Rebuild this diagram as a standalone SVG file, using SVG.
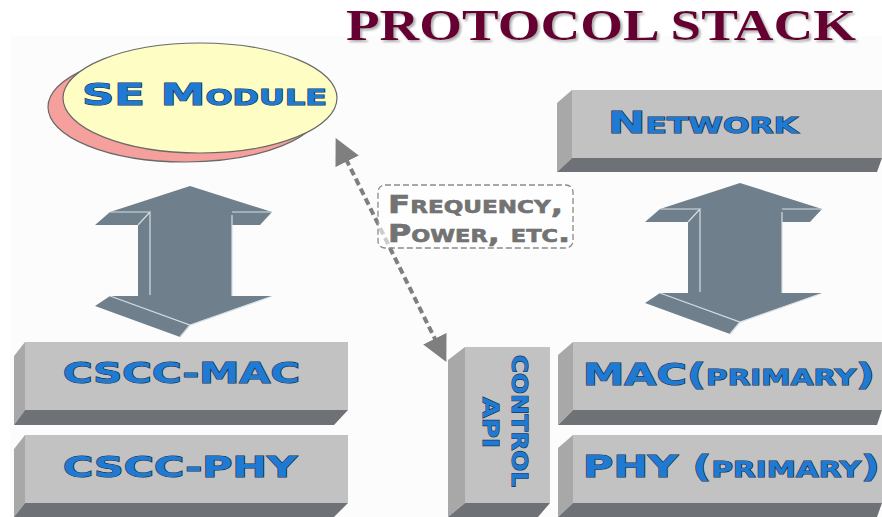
<svg xmlns="http://www.w3.org/2000/svg" width="882" height="517" viewBox="0 0 882 517">
  <defs>
    <style>
      .front { fill: #c2c2c2; }
      .side { fill: #a8a8a8; }
      .bottom { fill: #6e7276; }
      .lbl { font-family: "DejaVu Sans", "Liberation Sans", sans-serif; font-weight: bold; fill: #1f7ad3; stroke: #1b2e44; stroke-width: 1.1; paint-order: stroke fill; font-variant: small-caps; }
      .note { font-family: "DejaVu Sans", "Liberation Sans", sans-serif; font-weight: bold; fill: #737373; stroke: #555555; stroke-width: 0.5; paint-order: stroke fill; font-variant: small-caps; }
      .arrowbody { fill: #6f808c; }
      .bevel { fill: none; stroke: #d5dde2; stroke-width: 1.2; }
    </style>
    <filter id="shadow" x="-5%" y="-20%" width="110%" height="150%">
      <feDropShadow dx="2" dy="2" stdDeviation="0.8" flood-color="#999999" flood-opacity="0.8"/>
    </filter>
    <marker id="head" viewBox="0 0 10 10" refX="1" refY="5" markerWidth="6.5" markerHeight="6.5" orient="auto-start-reverse" markerUnits="strokeWidth">
      <path d="M0,0 L10,5 L0,10 Z" fill="#7f7f7f"/>
    </marker>
    <g id="bigArrow">
      <path class="arrowbody" d="M740,183 L822,209 L810,222 L782,222 L782,293 L822,293 L740,322 L730,334 L645,303 L660,293 L688,293 L688,222 L645,222 L660,209 Z"/>
      <path class="bevel" d="M660,209 L700,209 L688,222 M700,210 L700,292 M782,209 L822,209 M782,212 L782,293 M660,293 L740,322 L820,294 M740,322 L730,334"/>
    </g>
  </defs>

  <rect x="10" y="36" width="872" height="481" fill="#fcfcfc"/>

  <g id="title">
    <text x="346" y="40" font-family="Liberation Serif, serif" font-weight="bold" font-size="45" fill="#660033" textLength="510" lengthAdjust="spacingAndGlyphs" filter="url(#shadow)">PROTOCOL STACK</text>
  </g>

  <g id="se-module">
    <ellipse cx="185" cy="107" rx="137" ry="55" fill="#f5a09c" stroke="#6a6a6a" stroke-width="1.2"/>
    <ellipse cx="200" cy="98" rx="137" ry="55" fill="#fdfdc4" stroke="#6a6a6a" stroke-width="1.2"/>
    <text class="lbl" x="82" y="105" font-size="31" textLength="245" lengthAdjust="spacingAndGlyphs">SE Module</text>
  </g>

  <g id="arrow-left">
    <use href="#bigArrow" transform="translate(-550,3)"/>
  </g>
  <g id="arrow-right">
    <use href="#bigArrow"/>
  </g>

  <g id="network">
    <polygon class="side" points="557,103 572,90 572,158 557,172"/>
    <polygon class="bottom" points="572,158 882,158 882,158 877,172 557,172"/>
    <rect class="front" x="572" y="90" width="310" height="68"/>
    <text class="lbl" x="608" y="133" font-size="30" textLength="190" lengthAdjust="spacingAndGlyphs">Network</text>
  </g>

  <g id="cscc-mac">
    <polygon class="side" points="14,356 25,342 25,410 14,425"/>
    <polygon class="bottom" points="25,410 348,410 334,425 14,425"/>
    <rect class="front" x="25" y="342" width="323" height="68"/>
    <text class="lbl" x="63" y="383" font-size="28" textLength="237" lengthAdjust="spacingAndGlyphs">CSCC-MAC</text>
  </g>

  <g id="cscc-phy">
    <polygon class="side" points="14,449 25,435 25,503 14,517"/>
    <polygon class="bottom" points="25,503 348,503 334,517 14,517"/>
    <rect class="front" x="25" y="435" width="323" height="68"/>
    <text class="lbl" x="63" y="477" font-size="28" textLength="234" lengthAdjust="spacingAndGlyphs">CSCC-PHY</text>
  </g>

  <g id="control-api">
    <polygon class="side" points="448,360 465,347 465,503 448,517"/>
    <polygon class="bottom" points="465,503 550,503 538,517 448,517"/>
    <rect class="front" x="465" y="347" width="85" height="156"/>
    <text class="lbl" transform="translate(512,355) rotate(90)" font-size="22" textLength="132" lengthAdjust="spacingAndGlyphs" style="font-variant: normal">CONTROL</text>
    <text class="lbl" transform="translate(483,397) rotate(90)" font-size="22" textLength="51" lengthAdjust="spacingAndGlyphs" style="font-variant: normal">API</text>
  </g>

  <g id="mac-primary">
    <polygon class="side" points="558,355 573,342 573,410 558,425"/>
    <polygon class="bottom" points="573,410 882,410 882,410 877,425 558,425"/>
    <rect class="front" x="573" y="342" width="309" height="68"/>
    <text class="lbl" x="583" y="385" font-size="31" textLength="292" lengthAdjust="spacingAndGlyphs">MAC(primary)</text>
  </g>

  <g id="phy-primary">
    <polygon class="side" points="558,448 573,435 573,503 558,517"/>
    <polygon class="bottom" points="573,503 882,503 882,503 877,517 558,517"/>
    <rect class="front" x="573" y="435" width="309" height="68"/>
    <text class="lbl" x="583" y="477" font-size="31" textLength="297" lengthAdjust="spacingAndGlyphs">PHY (primary)</text>
  </g>

  <g id="connectors">
    <line x1="346" y1="159" x2="436" y2="341" stroke="#7f7f7f" stroke-width="4" stroke-dasharray="7 4" marker-start="url(#head)" marker-end="url(#head)"/>
  </g>

  <g id="label-freq">
    <rect x="378" y="185" width="195" height="63" rx="7" fill="#ffffff" fill-opacity="0.6" stroke="#8a8a8a" stroke-width="1.3" stroke-dasharray="6 3"/>
    <text class="note" x="388" y="213" font-size="24" textLength="175" lengthAdjust="spacingAndGlyphs">Frequency,</text>
    <text class="note" x="388" y="242" font-size="24" textLength="182" lengthAdjust="spacingAndGlyphs">Power, etc.</text>
  </g>
</svg>
